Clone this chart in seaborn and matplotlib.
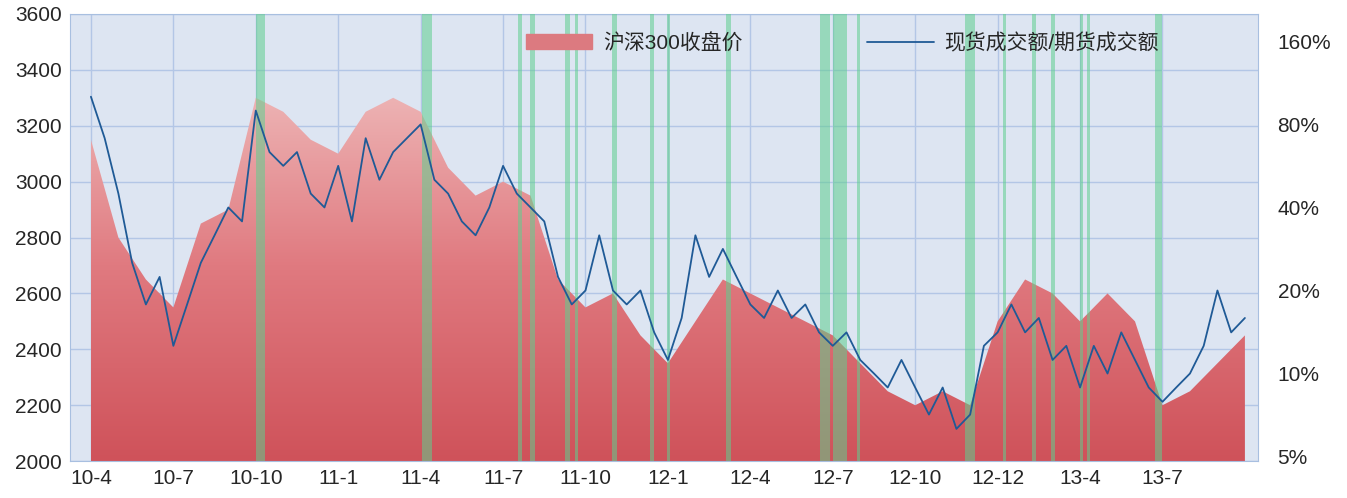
import matplotlib
matplotlib.use("Agg")
import matplotlib.pyplot as plt
import numpy as np
import pandas as pd
import seaborn as sns

# month index: 0 = 2010-04
price_months = list(range(0, 43))
price = [3150, 2800, 2650, 2550, 2850, 2900, 3300, 3250, 3150, 3100, 3250, 3300,
         3250, 3050, 2950, 3000, 2950, 2650, 2550, 2600, 2450, 2350, 2500, 2650,
         2600, 2550, 2500, 2450, 2350, 2250, 2200, 2250, 2200, 2500, 2650, 2600,
         2500, 2600, 2500, 2200, 2250, 2350, 2450]

ratio_months = [i * 0.5 for i in range(85)]
ratio_pct = [100.8, 71.3, 44.9, 25.2, 17.8, 22.4, 12.6, 17.8, 25.2, 31.7, 40.0, 35.6,
             89.8, 63.5, 56.6, 63.5, 44.9, 40.0, 56.6, 35.6, 71.3, 50.4, 63.5, 71.3,
             80.0, 50.4, 44.9, 35.6, 31.7, 40.0, 56.6, 44.9, 40.0, 35.6, 22.4, 17.8,
             20.0, 31.7, 20.0, 17.8, 20.0, 14.1, 11.2, 15.9, 31.7, 22.4, 28.3, 22.4,
             17.8, 15.9, 20.0, 15.9, 17.8, 14.1, 12.6, 14.1, 11.2, 10.0, 8.9, 11.2,
             8.9, 7.1, 8.9, 6.3, 7.1, 12.6, 14.1, 17.8, 14.1, 15.9, 11.2, 12.6,
             8.9, 12.6, 10.0, 14.1, 11.2, 8.9, 7.9, 8.9, 10.0, 12.6, 20.0, 14.1, 15.9]

bands = [(6.0, 6.33), (12.05, 12.41), (15.54, 15.69), (15.98, 16.16), (17.25, 17.44),
         (17.62, 17.73), (18.97, 19.15), (20.35, 20.5), (20.97, 21.08), (23.12, 23.3),
         (26.54, 26.9), (27.0, 27.52), (27.88, 27.99), (31.82, 32.18), (33.2, 33.31),
         (34.26, 34.4), (34.95, 35.1), (36.0, 36.1), (36.26, 36.37), (38.73, 38.99)]

tick_months = [0, 3, 6, 9, 12, 15, 18, 21, 24, 27, 30, 33, 36, 39]
tick_labels = ["10-4", "10-7", "10-10", "11-1", "11-4", "11-7", "11-10", "12-1",
               "12-4", "12-7", "12-10", "12-12", "13-4", "13-7"]
right_ticks = [5, 10, 20, 40, 80, 160]

sns.set_style("white")
plt.rcParams["font.family"] = ["Liberation Sans", "Noto Sans CJK SC", "DejaVu Sans"]

fig = plt.figure(figsize=(13.47, 4.98), dpi=100)
ax = fig.add_axes([0.052, 0.074, 0.882, 0.898])
ax.set_facecolor("#dde5f2")
ax.set_xlim(-0.76, 42.48)
ax.set_ylim(2000, 3600)

# gradient filled price area
grad = np.linspace(0, 1, 256).reshape(-1, 1)
cmap = matplotlib.colors.LinearSegmentedColormap.from_list("r", ["#cf525a", "#e07a80", "#efbcbc"])
img = ax.imshow(grad, extent=[0, 42, 2000, 3400], origin="lower", aspect="auto",
                cmap=cmap, zorder=2)
poly = ax.fill_between(price_months, 2000, price, color="none", zorder=2)
img.set_clip_path(poly.get_paths()[0], transform=ax.transData)

for a, b in bands:
    ax.axvspan(a, b, color="#5fcf8f", alpha=0.55, lw=0, zorder=3)

ax.set_yticks(range(2000, 3601, 200))
ax.set_xticks(tick_months)
ax.set_xticklabels(tick_labels)
ax.grid(True, color="#b3c6e6", lw=1, zorder=1)
ax.set_axisbelow(True)
ax.tick_params(labelsize=15, length=0, pad=6)
for s in ax.spines.values():
    s.set_color("#a8bfe0")

ax2 = ax.twinx()
ax2.set_yscale("log", base=2)
ax2.set_ylim(5 * 2 ** (-0.055), 5 * 2 ** (5.33))
df = pd.DataFrame({"m": ratio_months, "r": ratio_pct})
sns.lineplot(data=df, x="m", y="r", ax=ax2, color="#1f5a96", lw=1.3, zorder=4)
ax2.set_yticks(right_ticks)
ax2.set_yticklabels([f"{t}%" for t in right_ticks])
ax2.minorticks_off()
ax2.set_ylabel("")
ax2.tick_params(labelsize=15, length=0, pad=14)
for s in ax2.spines.values():
    s.set_visible(False)

h1 = matplotlib.patches.Patch(color="#dc7a80")
h2 = matplotlib.lines.Line2D([], [], color="#1f5a96", lw=1.3)
ax2.legend([h1, h2], ["沪深300收盘价", "现货成交额/期货成交额"], loc="upper center",
           bbox_to_anchor=(0.65, 1.0), ncol=2, frameon=False, fontsize=15,
           columnspacing=6, handlelength=3.2, handletextpad=0.5)

fig.savefig("out.png", dpi=100)
